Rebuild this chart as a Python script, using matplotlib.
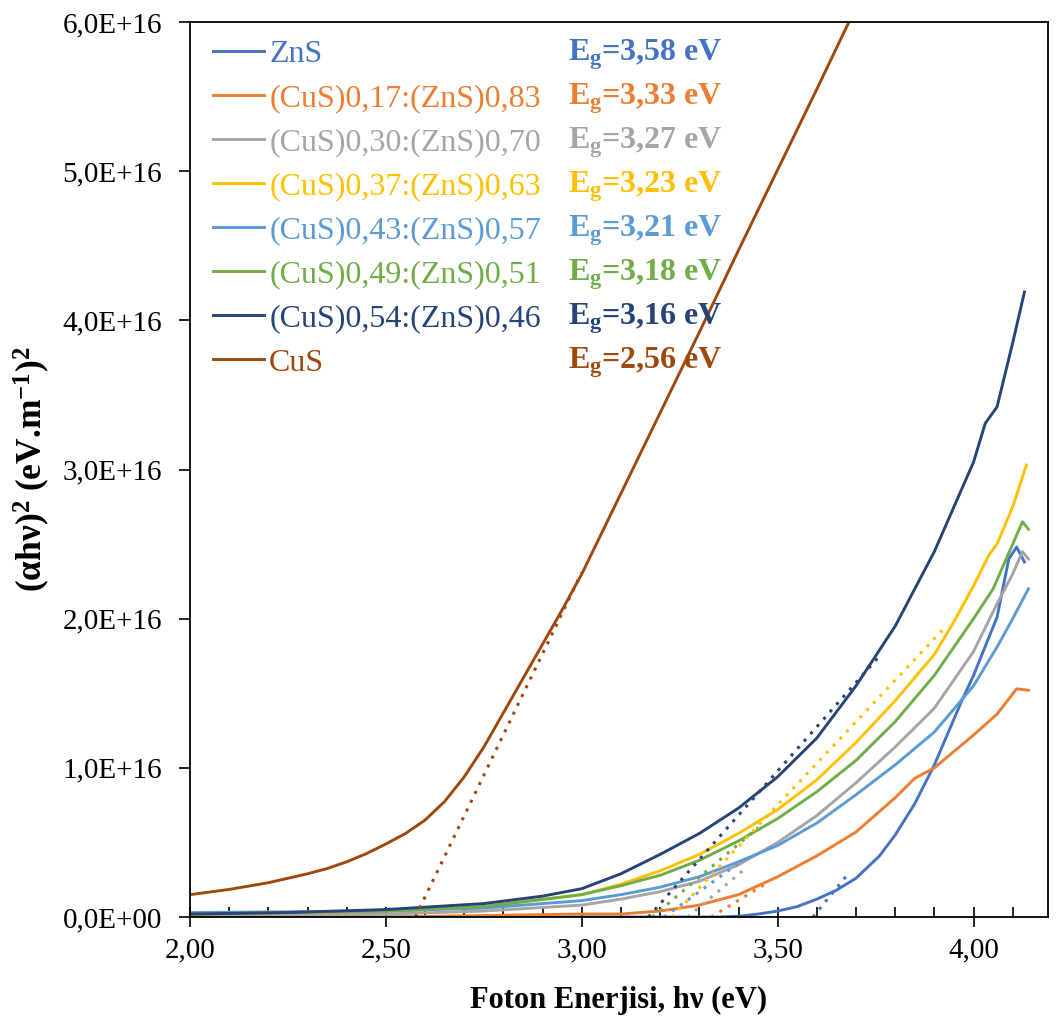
import numpy as np
import matplotlib
matplotlib.use('Agg')
import matplotlib.pyplot as plt
from matplotlib.ticker import FuncFormatter, MultipleLocator

plt.rcParams['font.family'] = ['Liberation Serif', 'DejaVu Serif']
plt.rcParams['mathtext.fontset'] = 'custom'
plt.rcParams['mathtext.rm'] = 'Liberation Serif'
plt.rcParams['mathtext.it'] = 'Liberation Serif:italic'
plt.rcParams['mathtext.bf'] = 'Liberation Serif:bold'

# series names, colours and band gaps (as printed)
labels = ['ZnS', '(CuS)0,17:(ZnS)0,83', '(CuS)0,30:(ZnS)0,70', '(CuS)0,37:(ZnS)0,63',
          '(CuS)0,43:(ZnS)0,57', '(CuS)0,49:(ZnS)0,51', '(CuS)0,54:(ZnS)0,46', 'CuS']
colors = ['#4472C4', '#ED7D31', '#A5A5A5', '#FFC000', '#5B9BD5', '#70AD47', '#264478', '#9E480E']
eg_text = ['3,58', '3,33', '3,27', '3,23', '3,21', '3,18', '3,16', '2,56']

# (alpha*h*nu)^2 vs photon energy, y in units of 1E16
x_zns = [2.0, 2.5, 3.0, 3.35, 3.4, 3.45, 3.5, 3.55, 3.6, 3.65, 3.7, 3.76, 3.8, 3.85, 3.9, 3.97, 4.0, 4.06, 4.09, 4.11, 4.13]
y_zns = [0.0, 0.0, 0.0, 0.0, 0.005, 0.02, 0.04, 0.07, 0.12, 0.18, 0.26, 0.41, 0.55, 0.76, 1.02, 1.45, 1.62, 2.01, 2.40, 2.48, 2.38]

x_017 = [2.0, 2.5, 2.75, 3.0, 3.1, 3.2, 3.3, 3.4, 3.5, 3.6, 3.7, 3.8, 3.85, 3.9, 4.0, 4.06, 4.11, 4.14]
y_017 = [0.0, 0.0, 0.01, 0.02, 0.02, 0.04, 0.08, 0.15, 0.27, 0.41, 0.57, 0.80, 0.93, 1.00, 1.22, 1.36, 1.53, 1.52]

x_030 = [2.0, 2.5, 2.75, 3.0, 3.1, 3.2, 3.3, 3.4, 3.5, 3.6, 3.7, 3.8, 3.9, 4.0, 4.06, 4.1, 4.125, 4.14]
y_030 = [0.01, 0.02, 0.04, 0.08, 0.12, 0.17, 0.24, 0.35, 0.50, 0.68, 0.90, 1.14, 1.40, 1.78, 2.10, 2.30, 2.45, 2.40]

x_037 = [2.0, 2.5, 2.75, 3.0, 3.1, 3.2, 3.3, 3.4, 3.5, 3.6, 3.7, 3.8, 3.9, 3.95, 4.0, 4.04, 4.06, 4.1, 4.135]
y_037 = [0.02, 0.04, 0.07, 0.15, 0.22, 0.31, 0.42, 0.56, 0.72, 0.92, 1.17, 1.45, 1.76, 1.98, 2.22, 2.43, 2.50, 2.75, 3.03]

x_043 = [2.0, 2.5, 2.75, 3.0, 3.1, 3.2, 3.3, 3.4, 3.5, 3.6, 3.7, 3.8, 3.9, 4.0, 4.06, 4.1, 4.14]
y_043 = [0.03, 0.04, 0.06, 0.11, 0.15, 0.20, 0.27, 0.37, 0.48, 0.63, 0.82, 1.02, 1.24, 1.55, 1.81, 2.00, 2.20]

x_049 = [2.0, 2.5, 2.75, 3.0, 3.1, 3.2, 3.3, 3.4, 3.5, 3.6, 3.7, 3.8, 3.9, 4.0, 4.05, 4.1, 4.125, 4.14]
y_049 = [0.02, 0.04, 0.07, 0.15, 0.21, 0.28, 0.38, 0.51, 0.66, 0.84, 1.05, 1.31, 1.62, 2.00, 2.20, 2.50, 2.65, 2.60]

x_054 = [2.0, 2.25, 2.5, 2.75, 2.9, 3.0, 3.1, 3.2, 3.3, 3.4, 3.5, 3.6, 3.7, 3.8, 3.9, 4.0, 4.03, 4.06, 4.1, 4.13]
y_054 = [0.02, 0.03, 0.05, 0.09, 0.14, 0.19, 0.29, 0.42, 0.56, 0.73, 0.94, 1.20, 1.55, 1.95, 2.45, 3.05, 3.31, 3.42, 3.85, 4.19]

x_cus = [2.0, 2.1, 2.2, 2.3, 2.35, 2.4, 2.45, 2.5, 2.55, 2.6, 2.65, 2.7, 2.75, 2.8, 2.85, 2.9, 2.95, 3.0,
         3.1, 3.2, 3.3, 3.4, 3.5, 3.6, 3.7]
y_cus = [0.15, 0.185, 0.23, 0.29, 0.325, 0.37, 0.425, 0.49, 0.56, 0.65, 0.775, 0.94, 1.14, 1.37, 1.60, 1.83, 2.06, 2.30,
         2.84, 3.38, 3.92, 4.47, 5.01, 5.55, 6.10]

# linear (Tauc) fits: x-intercept and end point of each dotted line
fit_x0 = [3.59, 3.33, 3.27, 3.23, 3.21, 3.18, 3.17, 2.575]
fit_x1 = [3.68, 3.48, 3.42, 3.93, 3.40, 3.45, 3.76, 3.0]
fit_y1 = [0.29, 0.24, 0.33, 1.95, 0.36, 0.60, 1.75, 2.31]

xs = [x_zns, x_017, x_030, x_037, x_043, x_049, x_054, x_cus]
ys = [y_zns, y_017, y_030, y_037, y_043, y_049, y_054, y_cus]

fig = plt.figure(figsize=(10.56, 10.23), dpi=100)
ax = fig.add_axes([0.18, 0.1036, 0.8124, 0.8749])

for x, y, c, lab in zip(xs, ys, colors, labels):
    ax.plot(x, np.array(y) * 1e16, color=c, lw=2.1, label=lab)

for x0, x1, y1, c in zip(fit_x0, fit_x1, fit_y1, colors):
    ax.plot([x0, x1], [0, y1 * 1e16], color=c, lw=2.2, linestyle=(0, (1, 2.2)))

ax.set_xlim(2.0, 4.19)
ax.set_ylim(0, 6e16)
ax.xaxis.set_major_locator(MultipleLocator(0.5))
ax.xaxis.set_minor_locator(MultipleLocator(0.1))
ax.yaxis.set_major_locator(MultipleLocator(1e16))
ax.xaxis.set_major_formatter(FuncFormatter(lambda v, p: f"{v:.2f}".replace('.', ',')))
ax.yaxis.set_major_formatter(FuncFormatter(lambda v, p: f"{v:.1E}".replace('.', ',')))
ax.tick_params(axis='x', which='major', direction='inout', length=14, width=1.2, labelsize=21, pad=8)
ax.tick_params(axis='x', which='minor', direction='in', length=7, width=1.2)
ax.tick_params(axis='y', which='major', direction='out', length=8, width=1.2, labelsize=21, pad=12)
for s in ax.spines.values():
    s.set_linewidth(1.3)

ax.set_xlabel('Foton Enerjisi, hν (eV)', fontsize=22, fontweight='bold', labelpad=16)
ax.set_ylabel(r'(αhν)$^{\mathbf{2}}$ (eV.m$^{\mathbf{-1}}$)$^{\mathbf{2}}$', fontsize=25.5, fontweight='bold', labelpad=8)

leg = ax.legend(loc='upper left', bbox_to_anchor=(0.027, 0.98), frameon=False, fontsize=23,
                handlelength=1.6, handletextpad=0.15, labelspacing=0.46, borderpad=0, borderaxespad=0,
                labelcolor='linecolor')

# band gap values next to the legend rows
fig.canvas.draw()
inv = ax.transAxes.inverted()
for t, c, eg in zip(leg.get_texts(), colors, eg_text):
    bb = t.get_window_extent()
    yc = inv.transform((0, (bb.y0 + bb.y1) / 2))[1]
    ax.text(0.441, yc, r'$\mathbf{E_g}$=' + eg + ' eV', transform=ax.transAxes, color=c,
            fontsize=23, fontweight='bold', va='center', ha='left')

fig.savefig('out.png', dpi=100)
